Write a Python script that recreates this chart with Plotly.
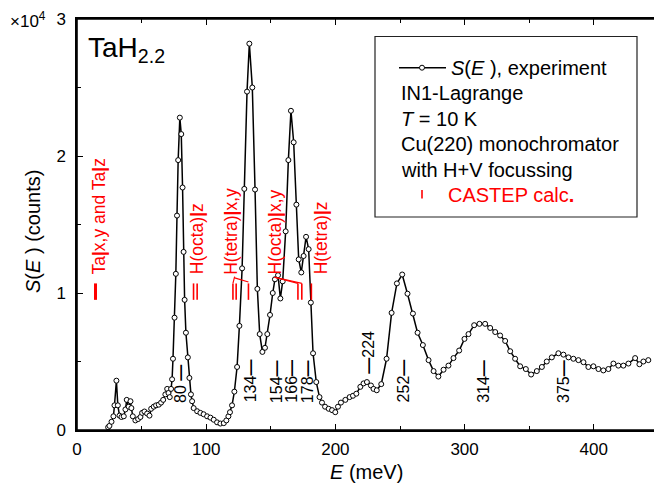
import plotly.graph_objects as go

# ---------------- data ----------------
energy = [24.1, 25.1, 26.7, 28.2, 29.0, 30.5, 31.6, 32.9, 34.4, 36.2, 37.5, 38.5, 40.0, 41.4, 42.1,
          43.2, 45.2, 47.3, 49.1, 50.4, 52.2, 54.3, 56.1, 57.4, 59.4, 61.2, 63.3, 65.1, 66.7, 68.4,
          69.8, 70.8, 71.8, 72.8, 73.6, 74.3, 75.5, 76.5, 77.4, 78.3, 79.6, 80.7, 81.7, 82.5, 83.3,
          84.3, 85.8, 87.0, 88.2, 89.1, 90.3, 93.0, 95.5, 98.0, 100.7, 103.3, 105.8, 108.4, 111.0,
          113.6, 115.6, 117.2, 118.4, 120.0, 121.8, 123.9, 125.7, 127.8, 129.5, 131.6, 133.4, 135.7,
          137.8, 139.6, 141.4, 143.5, 145.5, 147.3, 149.4, 151.5, 153.2, 155.6, 157.4, 159.2, 161.5,
          163.6, 165.6, 167.7, 169.8, 171.6, 173.6, 175.4, 177.3, 179.3, 181.0, 182.7, 185.2, 187.7,
          189.6, 192.0, 194.8, 197.4, 199.9, 202.0, 204.3, 207.7, 211.0, 213.6, 216.2, 219.3, 221.8,
          224.4, 227.5, 229.5, 232.0, 235.5, 239.6, 243.5, 247.6, 251.7, 255.8, 260.0, 263.6, 267.7,
          272.1, 276.0, 279.7, 283.7, 287.5, 291.4, 295.8, 299.9, 303.0, 307.4, 311.5, 315.9, 319.8,
          323.7, 327.5, 331.4, 335.3, 339.1, 343.0, 347.4, 351.5, 355.9, 359.8, 363.6, 367.5, 372.6,
          376.5, 380.4, 384.2, 388.1, 392.0, 395.8, 399.7, 403.6, 407.4, 411.3, 415.2, 419.0, 422.9,
          426.8, 432.0, 435.3, 438.4, 442.2]
counts = [0.02, 0.03, 0.06, 0.10, 0.18, 0.36, 0.18, 0.105, 0.095, 0.10, 0.15, 0.22, 0.17, 0.21, 0.16,
          0.10, 0.07, 0.08, 0.095, 0.125, 0.135, 0.12, 0.105, 0.155, 0.17, 0.18, 0.185, 0.20, 0.22, 0.26,
          0.30, 0.27, 0.24, 0.30, 0.37, 0.52, 0.82, 1.14, 1.565, 1.97, 2.28, 2.16, 1.77, 1.30, 0.95,
          0.71, 0.53, 0.38, 0.26, 0.21, 0.16, 0.137, 0.125, 0.115, 0.10, 0.09, 0.075, 0.056, 0.047,
          0.05, 0.07, 0.10, 0.13, 0.18, 0.28, 0.46, 0.76, 1.18, 1.76, 2.47, 2.82, 2.50,
          1.755, 1.03, 0.70, 0.57, 0.60, 0.70, 0.84, 1.00, 1.10, 1.13, 0.96, 1.085, 1.45,
          1.97, 2.33, 2.10, 1.645, 1.245, 1.15, 1.27, 1.41, 1.32, 0.93, 0.56, 0.35, 0.24,
          0.20, 0.17, 0.155, 0.145, 0.13, 0.17, 0.20, 0.22, 0.24, 0.25, 0.265, 0.315, 0.34,
          0.35, 0.325, 0.30, 0.29, 0.335, 0.52, 0.855, 1.07, 1.135, 0.995, 0.85, 0.71, 0.62,
          0.51, 0.43, 0.39, 0.44, 0.47, 0.525, 0.58, 0.665, 0.70, 0.765, 0.775, 0.775, 0.745,
          0.715, 0.69, 0.65, 0.575, 0.52, 0.465, 0.445, 0.405, 0.43, 0.46, 0.50, 0.53, 0.56,
          0.55, 0.53, 0.52, 0.51, 0.495, 0.46, 0.465, 0.445, 0.435, 0.445, 0.485, 0.47, 0.47,
          0.485, 0.525, 0.48, 0.50, 0.51]  # units of 1e4 counts

# CASTEP calculated mode positions (meV)
castep_modes = [14.3, 90.2, 93.0, 120.7, 123.2, 132.7, 171.0, 174.0, 181.4]
castep_labels = ["Ta<b>|</b>x,y and Ta<b>|</b>z", "H(octa)<b>|</b>z", "H(tetra)<b>|</b>x,y",
                 "H(octa)<b>|</b>x,y", "H(tetra)<b>|</b>z"]
castep_label_pos = [17.4, 93.0, 119.0, 153.5, 189.1]

# experimental peak labels (meV)
peak_labels = ["80", "134", "154", "166", "178", "224", "252", "314", "375"]
peak_pos = [80, 134, 154, 166, 178, 226, 252.5, 314, 376]

x_ticks = [0, 100, 200, 300, 400]
y_ticks = [0, 1, 2, 3]

# ---------------- layout helpers ----------------
W, H = 654, 485
L, R, T, B = 77, 0, 19, 55
PW, PH = W - L - R, H - T - B


def fx(p):
    return (p - L) / PW


def fy(p):
    return (H - B - p) / PH


FONT = "Arial, Liberation Sans, sans-serif"
RED = "#ff0000"

fig = go.Figure()
fig.add_trace(go.Scatter(
    x=energy, y=counts, mode="lines+markers",
    line=dict(color="black", width=1.5),
    marker=dict(symbol="circle", size=5, color="white", line=dict(color="black", width=1)),
    showlegend=False, hoverinfo="skip"))

shapes = []
annotations = []

# frame (left, bottom, top)
for (x0, y0, x1, y1) in [(0, 0, 0, 1), (0, 0, 1, 0), (0, 1, 1, 1)]:
    shapes.append(dict(type="line", xref="paper", yref="paper", x0=x0, y0=y0, x1=x1, y1=y1,
                       line=dict(color="black", width=1.6), layer="above"))

# CASTEP bars
for e in castep_modes:
    shapes.append(dict(type="line", xref="x", yref="y", x0=e, x1=e, y0=0.95, y1=1.07,
                       line=dict(color=RED, width=3 if e < 20 else 1.6)))

# leader lines
leaders = [((120.7, 1.07), (122.0, 1.12)), ((122.0, 1.11), (132.7, 1.08)),
           ((152.6, 1.115), (171.0, 1.07)), ((153.3, 1.115), (174.0, 1.07))]
for (a, b) in leaders:
    shapes.append(dict(type="line", xref="x", yref="y", x0=a[0], y0=a[1], x1=b[0], y1=b[1],
                       line=dict(color=RED, width=1.2)))

# red rotated labels
for txt, e in zip(castep_labels, castep_label_pos):
    annotations.append(dict(x=e, y=1.12, xref="x", yref="y", text=txt, textangle=-90,
                            showarrow=False, xanchor="center", yanchor="bottom",
                            font=dict(family=FONT, size=17.5, color=RED)))

# black peak labels
DASH = "<b>\u2014</b>"
for lab, e in zip(peak_labels, peak_pos):
    if lab == "224":
        txt, yb = DASH + lab, 0.40
    elif lab == "80":
        txt, yb = lab + " " + DASH, 0.185
    else:
        txt, yb = lab + DASH, 0.185
    annotations.append(dict(x=e, y=yb, xref="x", yref="y", text=txt, textangle=-90,
                            showarrow=False, xanchor="center", yanchor="bottom",
                            font=dict(family=FONT, size=16, color="black")))

# sample label TaH2.2
annotations.append(dict(x=fx(86), y=fy(49), xref="paper", yref="paper",
                        text="TaH<sub>2.2</sub>", showarrow=False, xanchor="left", yanchor="middle",
                        font=dict(family=FONT, size=28, color="black")))
# x10^4
annotations.append(dict(x=fx(8), y=fy(20), xref="paper", yref="paper",
                        text="\u00d710<sup>4</sup>", showarrow=False, xanchor="left", yanchor="middle",
                        font=dict(family=FONT, size=17, color="black")))
# axis titles
annotations.append(dict(x=fx(33), y=fy(232), xref="paper", yref="paper",
                        text="<i>S</i>(<i>E</i> ) (counts)", textangle=-90, showarrow=False,
                        xanchor="center", yanchor="middle",
                        font=dict(family=FONT, size=20, color="black")))
annotations.append(dict(x=fx(366), y=fy(472), xref="paper", yref="paper",
                        text="<i>E</i> (meV)", showarrow=False,
                        xanchor="center", yanchor="middle",
                        font=dict(family=FONT, size=20, color="black")))

# legend box
shapes.append(dict(type="rect", xref="paper", yref="paper", x0=fx(375), x1=fx(637),
                   y0=fy(217), y1=fy(36.5), line=dict(color="#222222", width=1.2),
                   fillcolor="white", layer="below"))
shapes.append(dict(type="line", xref="paper", yref="paper", x0=fx(399), x1=fx(446),
                   y0=fy(67.7), y1=fy(67.7), line=dict(color="black", width=1.5)))
shapes.append(dict(type="circle", xref="paper", yref="paper", xsizemode="pixel", ysizemode="pixel",
                   xanchor=fx(422), yanchor=fy(67.7), x0=-2.5, x1=2.5, y0=-2.5, y1=2.5,
                   fillcolor="white", line=dict(color="black", width=1)))
shapes.append(dict(type="line", xref="paper", yref="paper", x0=fx(422), x1=fx(422),
                   y0=fy(198.5), y1=fy(190), line=dict(color=RED, width=1.6)))

legend_lines = [("<i>S</i>(<i>E</i> ), experiment", 449, 67.7, "black"),
                ("IN1-Lagrange", 399, 93.3, "black"),
                ("<i>T</i> = 10 K", 399, 119, "black"),
                ("Cu(220) monochromator", 399, 144, "black"),
                ("with H+V focussing", 399, 169.5, "black"),
                ("CASTEP calc<b>.</b>", 446, 195, RED)]
for txt, xp, yp, col in legend_lines:
    annotations.append(dict(x=fx(xp), y=fy(yp), xref="paper", yref="paper", text=txt,
                            showarrow=False, xanchor="left", yanchor="middle",
                            font=dict(family=FONT, size=20, color=col)))

axis_common = dict(showline=True, linecolor="black", linewidth=1.5, ticks="inside",
                   ticklen=6, tickwidth=1.2, tickcolor="black", showgrid=False, zeroline=False,
                   automargin=False,
                   tickfont=dict(family=FONT, size=17, color="black"))

fig.update_layout(
    width=W, height=H, margin=dict(l=L, r=R, t=T, b=B, autoexpand=False),
    paper_bgcolor="white", plot_bgcolor="white",
    shapes=shapes, annotations=annotations, showlegend=False,
    xaxis=dict(range=[0, 446.6], tickvals=x_ticks, ticktext=[str(v) for v in x_ticks],
               mirror="ticks", ticklabelstandoff=3,
               minor=dict(ticks="inside", ticklen=4, tickvals=[50, 150, 250, 350], tickcolor="black"),
               **axis_common),
    yaxis=dict(range=[0, 3], tickvals=y_ticks, ticktext=[str(v) for v in y_ticks],
               mirror=False, ticklabelstandoff=6,
               minor=dict(ticks="inside", ticklen=4, tickvals=[0.5, 1.5, 2.5], tickcolor="black"),
               **axis_common),
)

fig.write_html("out.html", config={"displayModeBar": False},
               post_script="document.body.style.margin='0';document.body.style.padding='0';"
                           "document.body.style.overflow='hidden';")
